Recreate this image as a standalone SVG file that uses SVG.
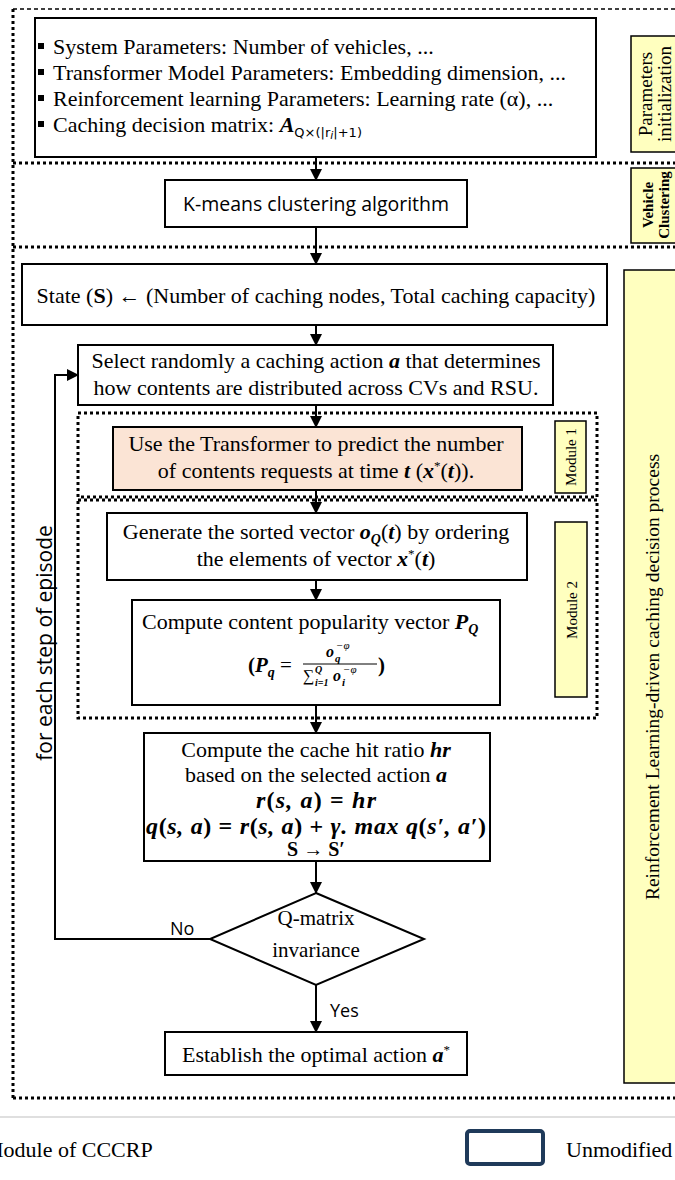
<svg xmlns="http://www.w3.org/2000/svg" width="675" height="1180" viewBox="0 0 675 1180">
<style>
.bx{fill:#fff;stroke:#000;stroke-width:2}
.pe{fill:#fbe4d5;stroke:#000;stroke-width:2}
.yl{fill:#ffffbf;stroke:#000;stroke-width:1.5}
.dot{fill:none;stroke:#000;stroke-width:3;stroke-dasharray:3 3}
.t{font-family:"Liberation Serif","Times New Roman",serif;font-size:22px;fill:#000}
.c{text-anchor:middle}
.sa{font-family:"Open Sans","Liberation Sans",sans-serif;fill:#000}
.bi{font-weight:bold;font-style:italic}
.b{font-weight:bold}
.ln{fill:none;stroke:#000;stroke-width:2}
</style>
<defs>
<marker id="ah" markerWidth="12" markerHeight="12" refX="11" refY="6" orient="auto" markerUnits="userSpaceOnUse"><path d="M0,0 L12,6 L0,12 z" fill="#000"/></marker>
</defs>

<g id="frame">
<line x1="13" y1="9" x2="675" y2="9" stroke="#000" stroke-width="1.5" stroke-dasharray="4 3"/>
<line x1="13" y1="9" x2="13" y2="1098" class="dot"/>
<line x1="13" y1="163" x2="675" y2="163" class="dot"/>
<line x1="13" y1="247" x2="675" y2="247" class="dot"/>
<line x1="13" y1="1098" x2="675" y2="1098" class="dot"/>
<rect x="78" y="413" width="519" height="84" class="dot"/>
<rect x="78" y="500" width="519" height="218" class="dot"/>
</g>

<g id="params">
<rect x="35" y="18" width="561" height="139" class="bx"/>
<rect x="38" y="43" width="6" height="6"/>
<rect x="38" y="69" width="6" height="6"/>
<rect x="38" y="95" width="6" height="6"/>
<rect x="38" y="121" width="6" height="6"/>
<text class="t" x="53" y="54">System Parameters: Number of vehicles, ...</text>
<text class="t" x="53" y="80">Transformer Model Parameters: Embedding dimension, ...</text>
<text class="t" x="53" y="106">Reinforcement learning Parameters: Learning rate (α), ...</text>
<text class="t" x="53" y="132">Caching decision matrix: <tspan class="bi">A</tspan><tspan font-family="DejaVu Sans,sans-serif" font-size="13" dy="5">Q×(|r<tspan font-style="italic" font-size="11" dy="2">i</tspan><tspan dy="-2">|+1)</tspan></tspan></text>
</g>

<g id="kmeans">
<rect x="165" y="180" width="302" height="47" class="bx"/>
<text class="sa c" x="316" y="211" font-size="20" textLength="266" lengthAdjust="spacingAndGlyphs">K-means clustering algorithm</text>
</g>

<g id="state">
<rect x="22" y="264" width="585" height="61" class="bx"/>
<text class="t c" x="316" y="303">State (<tspan class="b">S</tspan>) ← (Number of caching nodes, Total caching capacity)</text>
</g>

<g id="select">
<rect x="78" y="345" width="475" height="60" class="bx"/>
<text class="t c" x="316" y="368">Select randomly a caching action <tspan class="bi">a</tspan> that determines</text>
<text class="t c" x="316" y="395">how contents are distributed across CVs and RSU.</text>
</g>

<g id="transformer">
<rect x="113" y="427" width="409" height="63" class="pe"/>
<text class="t c" x="316" y="451">Use the Transformer to predict the number</text>
<text class="t c" x="316" y="478">of contents requests at time <tspan class="bi">t</tspan> (<tspan class="bi">x</tspan><tspan font-size="13" dy="-8">*</tspan><tspan dy="8">(</tspan><tspan class="bi">t</tspan>)).</text>
</g>

<g id="sorted">
<rect x="107" y="513" width="420" height="67" class="bx"/>
<text class="t c" x="316" y="539">Generate the sorted vector <tspan class="bi">o</tspan><tspan class="bi" font-size="14" dy="5">Q</tspan><tspan dy="-5">(</tspan><tspan class="bi">t</tspan>) by ordering</text>
<text class="t c" x="316" y="566">the elements of vector <tspan class="bi">x</tspan><tspan font-size="13" dy="-8">*</tspan><tspan dy="8">(</tspan><tspan class="bi">t</tspan>)</text>
</g>

<g id="popularity">
<rect x="132" y="600" width="368" height="105" class="bx"/>
<text class="t" x="142" y="629">Compute content popularity vector  <tspan class="bi">P</tspan><tspan class="bi" font-size="14" dy="5">Q</tspan></text>
<text class="t b" x="248" y="672" style="font-size:21px">(<tspan class="bi">P</tspan><tspan class="bi" font-size="14" dy="5">q</tspan><tspan dy="-5" font-weight="normal"> =</tspan></text>
<text class="t bi" x="326" y="657" style="font-size:16px">o</text>
<text class="t bi" x="335" y="662" style="font-size:11px">q</text>
<text class="t" x="336" y="649" style="font-size:11px;font-style:italic">−φ</text>
<line x1="303" y1="664" x2="377" y2="664" stroke="#000" stroke-width="1"/>
<text class="t" x="303" y="681" style="font-size:16px">∑</text>
<text class="t bi" x="315" y="673" style="font-size:10px">Q</text>
<text class="t bi" x="315" y="686" style="font-size:10px">i=1</text>
<text class="t bi" x="333" y="681" style="font-size:16px">o</text>
<text class="t bi" x="342" y="686" style="font-size:11px">i</text>
<text class="t" x="343" y="673" style="font-size:11px;font-style:italic">−φ</text>
<text class="t b" x="378" y="672" style="font-size:21px">)</text>
</g>

<g id="hitratio">
<rect x="144" y="733" width="346" height="128" class="bx"/>
<text class="t c" x="316" y="757">Compute the cache hit ratio  <tspan class="bi">hr</tspan></text>
<text class="t c" x="316" y="782">based on the selected action <tspan class="bi">a</tspan></text>
<text class="t c bi" x="316" y="808" style="font-size:24px" textLength="120">r<tspan font-style="normal">(</tspan>s, a<tspan font-style="normal">) = </tspan>hr</text>
<text class="t c bi" x="316" y="834" style="font-size:24px" textLength="340">q<tspan font-style="normal">(</tspan>s, a<tspan font-style="normal">) = </tspan>r<tspan font-style="normal">(</tspan>s, a<tspan font-style="normal">) + </tspan>γ. max q<tspan font-style="normal">(</tspan>s′, a′<tspan font-style="normal">)</tspan></text>
<text class="t c b" x="316" y="856" style="font-size:20px">S → S′</text>
</g>

<g id="decision">
<path d="M316,893 L424,939 L316,985 L210,939 Z" class="bx"/>
<text class="t c" x="316" y="925" style="font-size:21px">Q-matrix</text>
<text class="t c" x="316" y="957" style="font-size:21px">invariance</text>
</g>

<g id="optimal">
<rect x="165" y="1032" width="302" height="43" class="bx"/>
<text class="t c" x="316" y="1062">Establish the optimal action <tspan class="bi">a</tspan><tspan font-size="13" dy="-8">*</tspan></text>
</g>

<g id="lbl-params">
<rect x="631" y="36" width="50" height="116" class="yl"/>
<text class="t c" transform="translate(652,94) rotate(-90)" style="font-size:19px">Parameters</text>
<text class="t c" transform="translate(671,94) rotate(-90)" style="font-size:19px">initialization</text>
</g>
<g id="lbl-vehicle">
<rect x="631" y="168" width="50" height="75" class="yl"/>
<text class="t c b" transform="translate(653,205) rotate(-90)" style="font-size:15px">Vehicle</text>
<text class="t c b" transform="translate(669,205) rotate(-90)" style="font-size:15px">Clustering</text>
</g>
<g id="lbl-rl">
<rect x="624" y="270" width="60" height="813" class="yl"/>
<text class="t c" transform="translate(659,677) rotate(-90)" style="font-size:19.5px">Reinforcement Learning-driven caching decision process</text>
</g>
<g id="lbl-m1">
<rect x="555" y="421" width="31" height="72" class="yl"/>
<text class="t c" transform="translate(576,457) rotate(-90)" style="font-size:15px">Module 1</text>
</g>
<g id="lbl-m2">
<rect x="555" y="522" width="32" height="175" class="yl"/>
<text class="t c" transform="translate(577,610) rotate(-90)" style="font-size:15px">Module 2</text>
</g>

<g id="loop-label">
<text class="sa c" transform="translate(52,643) rotate(-90)" font-size="21">for each step of episode</text>
</g>

<g id="connectors">
<line x1="316" y1="157" x2="316" y2="180" class="ln" marker-end="url(#ah)"/>
<line x1="316" y1="227" x2="316" y2="264" class="ln" marker-end="url(#ah)"/>
<line x1="316" y1="325" x2="316" y2="345" class="ln" marker-end="url(#ah)"/>
<line x1="316" y1="405" x2="316" y2="427" class="ln" marker-end="url(#ah)"/>
<line x1="316" y1="490" x2="316" y2="513" class="ln" marker-end="url(#ah)"/>
<line x1="316" y1="580" x2="316" y2="600" class="ln" marker-end="url(#ah)"/>
<line x1="316" y1="705" x2="316" y2="733" class="ln" marker-end="url(#ah)"/>
<line x1="316" y1="861" x2="316" y2="893" class="ln" marker-end="url(#ah)"/>
<line x1="316" y1="985" x2="316" y2="1032" class="ln" marker-end="url(#ah)"/>
<polyline points="210,939 55,939 55,375 78,375" class="ln" marker-end="url(#ah)"/>
<text class="sa" x="170" y="935" font-size="18">No</text>
<text class="sa" x="330" y="1017" font-size="18">Yes</text>
</g>

<g id="legend">
<line x1="0" y1="1117" x2="675" y2="1117" stroke="#d4d4d4" stroke-width="1.5"/>
<text class="t" x="-16" y="1157">Module of CCCRP</text>
<rect x="467" y="1131" width="76" height="33" rx="3" fill="#fff" stroke="#1f3a5a" stroke-width="4"/>
<text class="t" x="566" y="1157">Unmodified</text>
</g>
</svg>
